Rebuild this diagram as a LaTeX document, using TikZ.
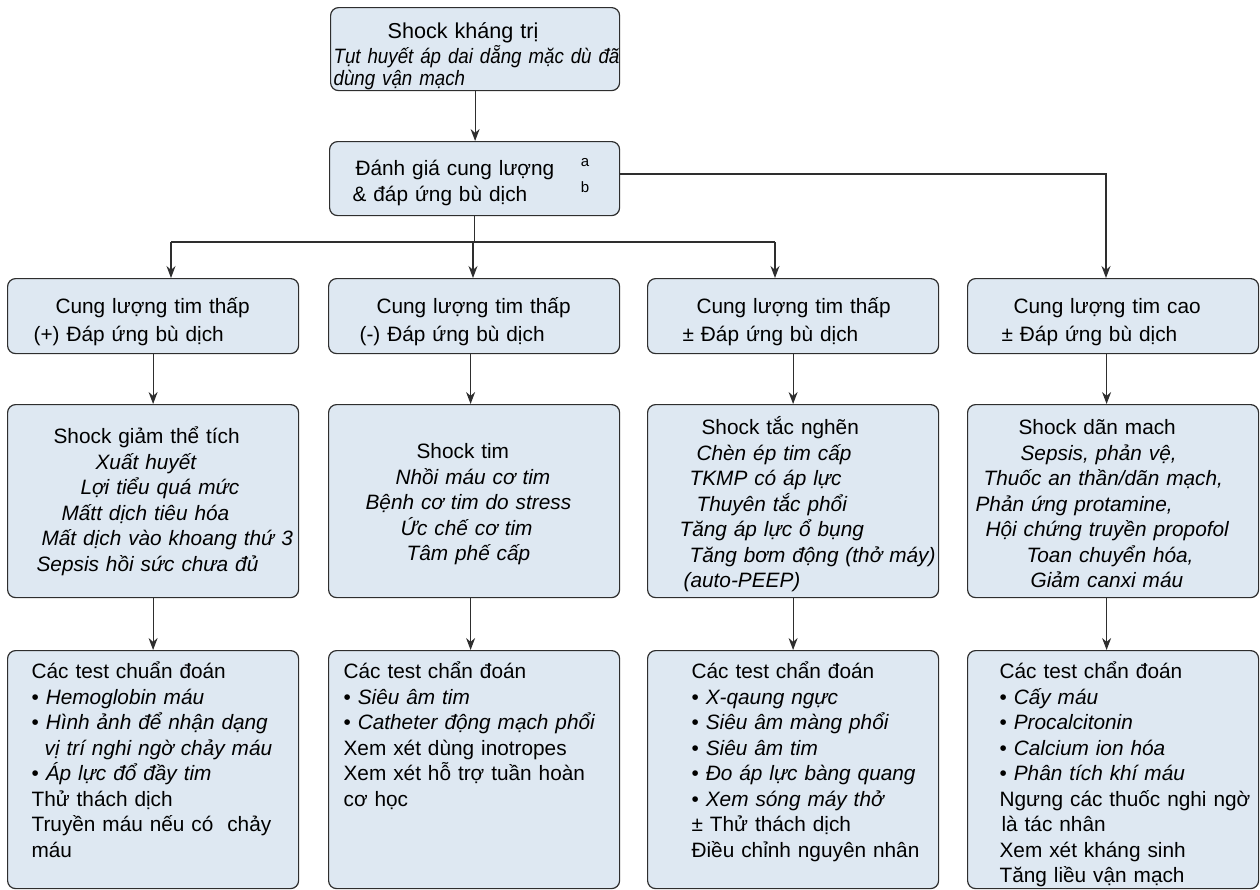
\documentclass[tikz,border=0pt]{standalone}
\usepackage{fontspec}
\setmainfont{Liberation Sans}
\newfontfamily\condsans[FakeStretch=0.9]{Liberation Sans}
\usetikzlibrary{arrows.meta, positioning, calc}
\definecolor{shBox}{HTML}{DEE8F2}
\definecolor{shLine}{HTML}{2E2E2E}
\newcommand{\txtat}[2]{\hspace*{#1pt}\mbox{#2}}
\tikzset{
  box/.style    = {draw=shLine, fill=shBox, rounded corners=4pt, line width=0.6pt,
                   inner sep=0pt, anchor=north west, align=left, text width=145.5pt},
  fsz/.style    = {font=\fontsize{10.4}{#1}\selectfont},
  flow/.style   = {-{Stealth[length=6pt,width=4.5pt]}, line width=0.6pt, shLine},
  link/.style   = {line width=0.6pt, shLine},
  sup/.style    = {font=\fontsize{7.5}{9}\selectfont, inner sep=0pt},
  rowone/.style = {box, fsz=14pt, text height=17.5pt, text depth=20pt},
  rowtwo/.style = {box, fsz=12.75pt, text depth=#1},
  rowthr/.style = {box, fsz=12.75pt, text height=14pt, text depth=105pt},
}

\begin{document}
\begin{tikzpicture}[x=0.5pt, y=-0.5pt]
  \useasboundingbox (0,0) rectangle (1260,890);

  \node[box, fsz=11pt, text width=144.5pt, text height=15.5pt, text depth=26pt] (top) at (330,7)
    {\txtat{28.5}{\fontsize{10.8}{11}\selectfont Shock kháng trị}\\
     \txtat{1.5}{\condsans\itshape Tụt huyết áp dai dẵng mặc dù đã}\\
     \txtat{1.5}{\condsans\itshape dùng vận mạch}};

  \node[box, fsz=13pt, text width=145pt, text height=17pt, text depth=20pt] (eval) at (329,141)
    {\txtat{13}{Đánh giá cung lượng}\\
     \txtat{11.5}{\& đáp ứng bù dịch}};
  \node[sup] (supA) at (585,163) {a};
  \node[sup] (supB) at (585,187) {b};

  % cung luong
  \node[rowone] (c1) at (7,278)   {\txtat{24}{Cung lượng tim thấp}\\ \txtat{13}{(+) Đáp ứng bù dịch}};
  \node[rowone] (c2) at (328,278) {\txtat{24}{Cung lượng tim thấp}\\ \txtat{15.5}{(-) Đáp ứng bù dịch}};
  \node[rowone] (c3) at (647,278) {\txtat{24.5}{Cung lượng tim thấp}\\ \txtat{17.5}{± Đáp ứng bù dịch}};
  \node[rowone] (c4) at (967,278) {\txtat{23}{Cung lượng tim cao}\\ \txtat{17}{± Đáp ứng bù dịch}};

  % loai shock
  \node[rowtwo=77pt, text height=19.5pt] (s1) at (7,404)
    {\txtat{23}{Shock giảm thể tích}\\
     \txtat{44}{\itshape Xuất huyết}\\
     \txtat{36.5}{\itshape Lợi tiểu quá mức}\\
     \txtat{27}{\itshape Mấtt dịch tiêu hóa}\\
     \txtat{17}{\itshape Mất dịch vào khoang thứ 3}\\
     \txtat{14.5}{\itshape Sepsis hồi sức chưa đủ}};
  \node[rowtwo=69.5pt, text height=27pt] (s2) at (328,404)
    {\txtat{44}{Shock tim}\\
     \txtat{33.5}{\itshape Nhồi máu cơ tim}\\
     \txtat{18.5}{\itshape Bệnh cơ tim do stress}\\
     \txtat{36}{\itshape Ức chế cơ tim}\\
     \txtat{39}{\itshape Tâm phế cấp}};
  \node[rowtwo=81.5pt, text height=15pt] (s3) at (647,404)
    {\txtat{27}{Shock tắc nghẽn}\\
     \txtat{24.5}{\itshape Chèn ép tim cấp}\\
     \txtat{21}{\itshape TKMP có áp lực}\\
     \txtat{24.5}{\itshape Thuyên tắc phổi}\\
     \txtat{16}{\itshape Tăng áp lực ổ bụng}\\
     \txtat{21}{\itshape Tăng bơm động (thở máy)}\\
     \txtat{18}{\itshape (auto-PEEP)}};
  \node[rowtwo=81.5pt, text height=15pt] (s4) at (967,404)
    {\txtat{25.5}{Shock dãn mach}\\
     \txtat{26.5}{\itshape Sepsis, phản vệ,}\\
     \txtat{8}{\itshape Thuốc an thần/dãn mạch,}\\
     \txtat{4}{\itshape Phản ứng protamine,}\\
     \txtat{9}{\itshape Hội chứng truyền propofol}\\
     \txtat{29.5}{\itshape Toan chuyển hóa,}\\
     \txtat{31.5}{\itshape Giảm canxi máu}};

  % chan doan
  \node[rowthr] (d1) at (7,650)
    {\txtat{12}{Các test chuẩn đoán}\\
     \txtat{12}{• \textit{Hemoglobin máu}}\\
     \txtat{12}{• \textit{Hình ảnh để nhận dạng}}\\
     \txtat{18.5}{\itshape vị trí nghi ngờ chảy máu}\\
     \txtat{12}{• \textit{Áp lực đổ đầy tim}}\\
     \txtat{12}{Thử thách dịch}\\
     \txtat{12}{Truyền máu nếu có\ \ chảy}\\
     \txtat{12}{máu}};
  \node[rowthr] (d2) at (328,650)
    {\txtat{7.5}{Các test chẩn đoán}\\
     \txtat{7.5}{• \textit{Siêu âm tim}}\\
     \txtat{7.5}{• \textit{Catheter động mạch phổi}}\\
     \txtat{7.5}{Xem xét dùng inotropes}\\
     \txtat{7.5}{Xem xét hỗ trợ tuần hoàn}\\
     \txtat{7.5}{cơ học}};
  \node[rowthr] (d3) at (647,650)
    {\txtat{22}{Các test chẩn đoán}\\
     \txtat{22}{• \textit{X-qaung ngực}}\\
     \txtat{22}{• \textit{Siêu âm màng phổi}}\\
     \txtat{22}{• \textit{Siêu âm tim}}\\
     \txtat{22}{• \textit{Đo áp lực bàng quang}}\\
     \txtat{22}{• \textit{Xem sóng máy thở}}\\
     \txtat{22}{± Thử thách dịch}\\
     \txtat{22}{Điều chỉnh nguyên nhân}};
  \node[rowthr] (d4) at (967,650)
    {\txtat{16}{Các test chẩn đoán}\\
     \txtat{16}{• \textit{Cấy máu}}\\
     \txtat{16}{• \textit{Procalcitonin}}\\
     \txtat{16}{• \textit{Calcium ion hóa}}\\
     \txtat{16}{• \textit{Phân tích khí máu}}\\
     \txtat{16}{Ngưng các thuốc nghi ngờ}\\
     \txtat{17}{là tác nhân}\\
     \txtat{16}{Xem xét kháng sinh}\\
     \txtat{16}{Tăng liều vận mạch}};

  \coordinate (split)  at (473,242);
  \coordinate (splitL) at (171,242);
  \coordinate (splitR) at (775,242);
  \coordinate (turn)   at (1106,174);

  \draw[flow] (top.south) -- (top.south |- eval.north);
  \draw[link] (eval.south |- split) -- (eval.south);
  \draw[link] (splitL) -- (splitR);
  \draw[flow] (splitL) -- (splitL |- c1.north);
  \draw[flow] (split) -- (split |- c2.north);
  \draw[flow] (splitR) -- (splitR |- c3.north);
  \draw[flow] (eval.east |- turn) -- (turn) -- (turn |- c4.north);

  \foreach \i/\dx in {1/0, 2/-1.75, 3/0, 4/-3.25} {
    \draw[flow] ([xshift=\dx pt]c\i.south) -- ([xshift=\dx pt]s\i.north);
    \draw[flow] ([xshift=\dx pt]s\i.south) -- ([xshift=\dx pt]d\i.north);
  }
\end{tikzpicture}
\end{document}
